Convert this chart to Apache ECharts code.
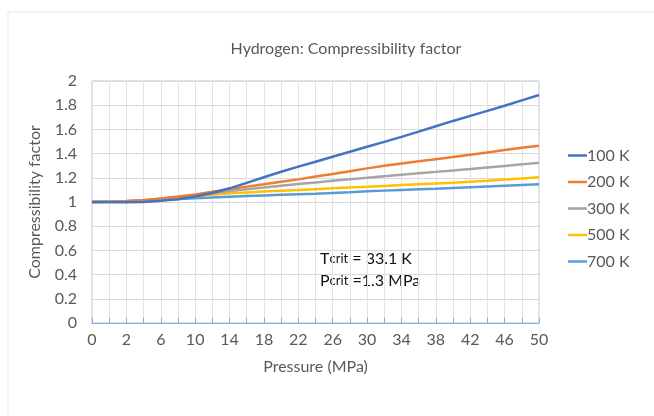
<!DOCTYPE html>
<html>
<head>
<meta charset="utf-8">
<script src="https://cdn.jsdelivr.net/npm/echarts@6/dist/echarts.min.js"></script>
<style>
html,body{margin:0;padding:0;background:#fff;}
#chart{width:654px;height:416px;}
</style>
</head>
<body>
<div id="chart"></div>
<script>
var pressures = ['0','1','2','4','6','8','10','12','14','16','18','20','22','24','26','28','30','32','34','36','38','40','42','44','46','48','50'];
var z100 = [1.0,0.998,0.998,1.0,1.01,1.022,1.045,1.075,1.113,1.158,1.205,1.25,1.292,1.333,1.374,1.415,1.457,1.497,1.538,1.582,1.626,1.67,1.712,1.753,1.795,1.84,1.884];
var z200 = [1.0,1.003,1.006,1.015,1.03,1.045,1.062,1.085,1.107,1.127,1.146,1.167,1.187,1.21,1.231,1.255,1.278,1.299,1.319,1.337,1.354,1.371,1.39,1.41,1.43,1.448,1.465];
var z300 = [1.0,1.004,1.008,1.015,1.027,1.04,1.055,1.072,1.09,1.105,1.12,1.135,1.149,1.162,1.175,1.188,1.2,1.213,1.225,1.237,1.249,1.261,1.273,1.286,1.298,1.311,1.325];
var z500 = [1.0,1.003,1.007,1.015,1.025,1.036,1.048,1.06,1.072,1.079,1.086,1.093,1.099,1.106,1.113,1.12,1.126,1.133,1.14,1.147,1.153,1.16,1.168,1.176,1.185,1.195,1.204];
var z700 = [1.0,1.003,1.006,1.012,1.018,1.024,1.03,1.037,1.044,1.049,1.054,1.059,1.064,1.069,1.075,1.081,1.088,1.094,1.1,1.105,1.11,1.116,1.122,1.128,1.134,1.14,1.146];
var seriesNames = ['100 K','200 K','300 K','500 K','700 K'];
var seriesData = [z100, z200, z300, z500, z700];
var colors = ['#4472C4','#ED7D31','#A5A5A5','#FFC000','#5B9BD5'];
var titleText = 'Hydrogen: Compressibility factor';
var xName = 'Pressure (MPa)';
var yName = 'Compressibility factor';

var FONT = 'Lato';
var FS = 16;
var chart = echarts.init(document.getElementById('chart'));
var series = seriesNames.map(function(n, i){
  return {
    name: n, type: 'line', data: seriesData[i], symbol: 'none',
    lineStyle: {width: 2.5, color: colors[i]}, itemStyle: {color: colors[i]},
    z: 10 - i
  };
});
chart.setOption({
  animation: false,
  textStyle: {fontFamily: FONT},
  title: {
    text: titleText, left: 341, top: 36, textAlign: 'center',
    textStyle: {fontFamily: FONT, fontSize: FS, fontWeight: 'normal', color: '#595959'}
  },
  legend: {
    orient: 'vertical', left: 568, top: 147.5, itemGap: 10.5, padding: 0,
    itemWidth: 19, itemHeight: 2.5, icon: 'rect',
    textStyle: {fontFamily: FONT, fontSize: FS, color: '#595959', padding: [0,0,0,-5]},
    data: seriesNames
  },
  grid: {left: 92, right: 115, top: 81, bottom: 93, show: true, borderColor: '#b4c3e6', borderWidth: 1, backgroundColor: 'transparent'},
  xAxis: {
    type: 'category', data: pressures, boundaryGap: false,
    name: xName, nameLocation: 'middle', nameGap: 36,
    nameTextStyle: {fontFamily: FONT, fontSize: FS, color: '#595959'},
    axisLine: {lineStyle: {color: '#8ea9db', width: 1}},
    axisTick: {show: true, inside: true, length: 5, interval: 0, lineStyle: {color: '#8ea9db'}},
    axisLabel: {interval: 1, margin: 9, fontFamily: FONT, fontSize: FS, color: '#595959'},
    splitLine: {show: true, interval: 0, lineStyle: {color: '#e3e3e3', width: 1}}
  },
  yAxis: {
    type: 'value', min: 0, max: 2, interval: 0.2,
    name: yName, nameLocation: 'middle', nameGap: 49,
    nameTextStyle: {fontFamily: FONT, fontSize: FS, color: '#595959'},
    axisLine: {show: false}, axisTick: {show: false},
    axisLabel: {margin: 15, fontFamily: FONT, fontSize: FS, color: '#595959'},
    splitLine: {lineStyle: {color: '#d9d9d9', width: 1}}
  },
  graphic: [
    {type: 'polyline', shape: {points: [[8, 416], [8, 12], [654, 12]]}, style: {stroke: '#e6e6e6', fill: null, lineWidth: 1}, silent: true},
    {type: 'text', left: 320, top: 251, style: {
      text: '{a|T}{b|crit}{a| = 33.1 K}\n{a|P}{b|crit}{a| =1.3 MPa}',
      rich: {
        a: {fontFamily: FONT, fontSize: 16, fill: '#111111', lineHeight: 22},
        b: {fontFamily: FONT, fontSize: 13, fill: '#111111', lineHeight: 22}
      }
    }}
  ],
  series: series
});
</script>
</body>
</html>
